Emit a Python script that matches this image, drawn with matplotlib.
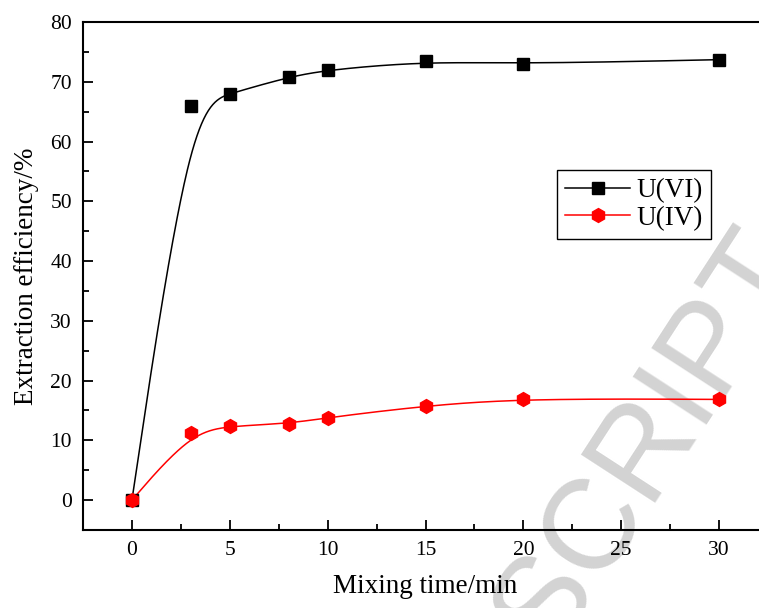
import numpy as np
import matplotlib
matplotlib.use("Agg")
import matplotlib.pyplot as plt
from matplotlib.lines import Line2D

# Extraction efficiency (%) versus mixing time (min)
mixing_time = [0, 3, 5, 8, 10, 15, 20, 30]
u_vi = [0.0, 65.9, 68.0, 70.8, 72.0, 73.4, 73.0, 73.7]
u_iv = [0.0, 11.3, 12.4, 12.8, 13.8, 15.8, 17.0, 16.85]

x_ticks = [0, 5, 10, 15, 20, 25, 30]
y_ticks = [0, 10, 20, 30, 40, 50, 60, 70, 80]


def bspline(xs, ys, n_per_seg=60):
    """Clamped uniform cubic B-spline using the points as control points."""
    P = np.column_stack([xs, ys]).astype(float)
    P = np.vstack([P[0], P[0], P, P[-1], P[-1]])
    t = np.linspace(0, 1, n_per_seg)
    b0 = (1 - t) ** 3 / 6
    b1 = (3 * t ** 3 - 6 * t ** 2 + 4) / 6
    b2 = (-3 * t ** 3 + 3 * t ** 2 + 3 * t + 1) / 6
    b3 = t ** 3 / 6
    pts = []
    for i in range(len(P) - 3):
        seg = (np.outer(b0, P[i]) + np.outer(b1, P[i + 1])
               + np.outer(b2, P[i + 2]) + np.outer(b3, P[i + 3]))
        pts.append(seg)
    pts = np.vstack(pts)
    return pts[:, 0], pts[:, 1]


plt.rcParams["font.family"] = ["Liberation Serif", "DejaVu Serif"]
plt.rcParams["mathtext.fontset"] = "stix"

fig = plt.figure(figsize=(7.59, 6.08), dpi=100)
ax = fig.add_axes([83 / 759, 1 - 530 / 608, (768 - 83) / 759, (530 - 22) / 608])

# background watermark, drawn beneath the axis artists
ax.text(1.06, 0.575, "MANUSCRIPT", fontsize=92,
        color="#d3d3d3", family="Liberation Sans", rotation=57,
        rotation_mode="anchor", ha="right", va="baseline",
        transform=fig.transFigure, clip_on=False, zorder=0)

black = "#000000"
red = "#ff0000"

sx, sy = bspline(mixing_time, u_vi)
ax.plot(sx, sy, color=black, lw=1.1, zorder=3)
ax.plot(mixing_time, u_vi, ls="none", marker="s", ms=8, color=black, zorder=4)

rx, ry = bspline(mixing_time, u_iv)
ax.plot(rx, ry, color=red, lw=1.1, zorder=3)
ax.plot(mixing_time, u_iv, ls="none", marker="h", ms=10, color=red, zorder=4)

ax.set_xlim(-2.5, 32.5)
ax.set_ylim(-5, 80)
ax.set_xticks(x_ticks)
ax.set_yticks(y_ticks)
ax.set_xticks(np.arange(2.5, 32.5, 5), minor=True)
ax.set_yticks(np.arange(-5, 80, 10), minor=True)

ax.tick_params(which="both", direction="in", width=1.3, labelsize=15.5)
ax.tick_params(which="major", length=7, pad=8)
ax.tick_params(which="minor", length=4)
ax.tick_params(top=False, right=False)

for side in ["left", "bottom", "top", "right"]:
    ax.spines[side].set_linewidth(1.5)

ax.set_xlabel("Mixing time/min", fontsize=19.5, labelpad=10)
ax.set_ylabel("Extraction efficiency/%", fontsize=19.5, labelpad=8)

handles = [
    Line2D([], [], color=black, lw=1.1, marker="s", ms=8),
    Line2D([], [], color=red, lw=1.1, marker="h", ms=10),
]
leg = ax.legend(handles, ["U(VI)", "U(IV)"], fontsize=19.5,
                loc="upper left", bbox_to_anchor=(557 / 759, 1 - 170 / 608),
                bbox_transform=fig.transFigure, frameon=True, fancybox=False,
                edgecolor=black, framealpha=1, handlelength=2.4,
                handletextpad=0.25, borderpad=0.3, labelspacing=0.1,
                borderaxespad=0)
leg.get_frame().set_linewidth(1.0)
leg.set_zorder(5)

fig.savefig("out.png", dpi=100)
